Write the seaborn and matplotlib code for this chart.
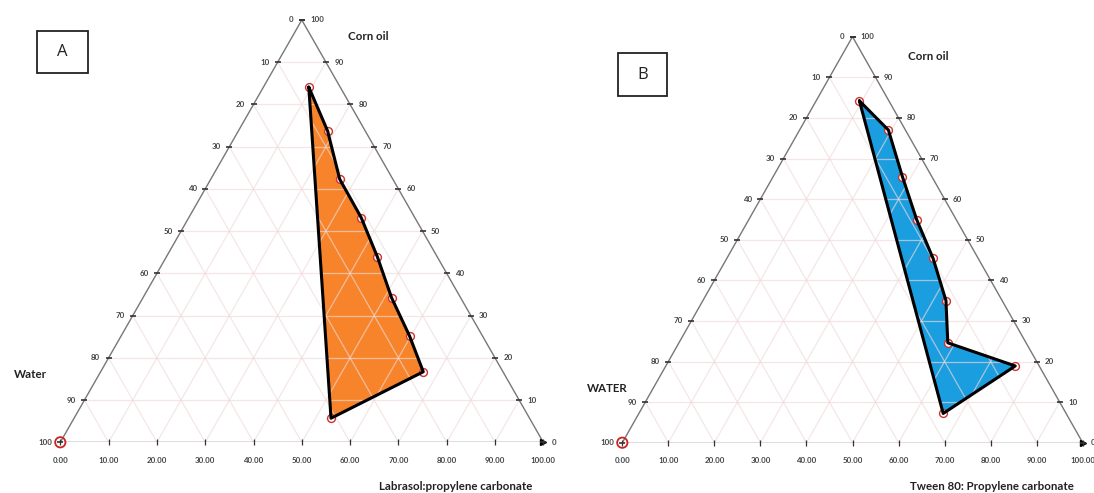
import numpy as np
import pandas as pd
import matplotlib
matplotlib.use('Agg')
import matplotlib.pyplot as plt
import matplotlib.patches as mpatches
import seaborn as sns

# ---- data: Smix / corn oil / water (%) ----
a_smix = [9.4, 18.5, 26.7, 35.7, 43.7, 51.5, 59.7, 66.8, 53.2]
a_oil = [84.1, 73.7, 62.3, 53.2, 43.9, 34.2, 25.2, 16.7, 5.7]
a_water = [6.5, 7.8, 11.0, 11.1, 12.4, 14.3, 15.1, 16.5, 41.1]

b_smix = [9.4, 19.3, 28.1, 36.5, 44.8, 52.8, 58.4, 75.9, 66.1]
b_oil = [84.2, 77.0, 65.5, 54.9, 45.4, 35.0, 24.6, 18.9, 7.2]
b_water = [6.4, 3.7, 6.4, 8.6, 9.8, 12.2, 17.0, 5.2, 26.7]

# pure water vertex marked on both diagrams
vertex_smix = [0.0]
vertex_oil = [0.0]

grid_vals = [10, 20, 30, 40, 50, 60, 70, 80, 90]
side_ticks = [0, 10, 20, 30, 40, 50, 60, 70, 80, 90, 100]
bottom_labels = ['0.00', '10.00', '20.00', '30.00', '40.00', '50.00',
                 '60.00', '70.00', '80.00', '90.00', '100.00']

H = np.sqrt(3) / 2
W_PX, H_PX = 1094, 493


def tern(smix, oil):
    smix = np.asarray(smix, dtype=float)
    oil = np.asarray(oil, dtype=float)
    return smix + oil / 2, oil * H


def ternary_panel(rect, smix, oil, water, fill):
    ax = fig.add_axes(rect)
    ax.set_xlim(0, 100)
    ax.set_ylim(0, 100 * H)
    ax.axis('off')

    # grid (light, drawn over the filled region so it shows through)
    gkw = dict(color='#efdada', lw=0.9, alpha=0.65, zorder=3)
    for k in grid_vals:
        x, y = tern([0, 100 - k], [k, k])
        ax.plot(x, y, **gkw)
        x, y = tern([k, k], [0, 100 - k])
        ax.plot(x, y, **gkw)
        x, y = tern([100 - k, 0], [0, 100 - k])
        ax.plot(x, y, **gkw)

    # triangle frame
    x, y = tern([0, 0], [0, 100])
    ax.plot(x, y, color='#777777', lw=1.0, zorder=4)
    x, y = tern([0, 100], [100, 0])
    ax.plot(x, y, color='#777777', lw=1.0, zorder=4)
    x, y = tern([0, 100], [0, 0])
    ax.plot(x, y, color='#555555', lw=1.0, zorder=4)
    ax.plot([100], [0], marker='>', color='black', ms=4, zorder=5, clip_on=False)

    tkw = dict(fontsize=5.7, fontweight='bold', color='#444444',
               textcoords='offset points', va='center')
    for v in side_ticks:
        # left axis
        lx, ly = tern([0], [100 - v])
        ax.plot(lx, ly, marker='_', color='#333333', ms=4, mew=1.2,
                zorder=5, clip_on=False)
        ax.annotate(str(v), (lx[0], ly[0]), xytext=(-6, 0), ha='right', **tkw)
        # right axis
        rx, ry = tern([100 - v], [v])
        ax.plot(rx, ry, marker='_', color='#333333', ms=4, mew=1.2,
                zorder=5, clip_on=False)
        ax.annotate(str(v), (rx[0], ry[0]), xytext=(6, 0), ha='left', **tkw)
    for v, lab in zip(side_ticks, bottom_labels):
        ax.plot([v], [0], marker='|', color='#333333', ms=4, mew=0.9,
                zorder=5, clip_on=False)
        ax.annotate(lab, (v, 0), xytext=(0, -13), ha='center', **tkw)

    # region
    px, py = tern(smix, oil)
    ax.fill(px, py, color=fill, lw=0, zorder=2)
    pts = pd.DataFrame({'x': px, 'y': py, 'water': water})
    sns.scatterplot(data=pts, x='x', y='y', ax=ax, s=32, marker='o',
                    facecolor='white', edgecolor='#cc3333', linewidth=1.0,
                    zorder=6, legend=False)
    ax.plot(np.append(px, px[0]), np.append(py, py[0]), color='black',
            lw=2.2, zorder=7, solid_joinstyle='round')
    vx, vy = tern(vertex_smix, vertex_oil)
    ax.scatter(vx, vy, s=55, facecolor='none', edgecolor='#cc2222',
               linewidth=1.3, zorder=8, clip_on=False)
    ax.set_xlabel('')
    ax.set_ylabel('')
    return ax


def fig_text(x, y, s, **kw):
    fig.text(x / W_PX, 1 - y / H_PX, s, **kw)


sns.set_theme(style='white')
plt.rcParams['font.family'] = ['Lato', 'DejaVu Sans']

fig = plt.figure(figsize=(W_PX / 100, H_PX / 100), dpi=100)
fig.patch.set_facecolor('white')

ternary_panel([60.3 / W_PX, (H_PX - 442.3) / H_PX, 483 / W_PX, 422.3 / H_PX],
              a_smix, a_oil, a_water, '#f7842a')
ternary_panel([622.3 / W_PX, (H_PX - 442.7) / H_PX, 460.4 / W_PX, 406 / H_PX],
              b_smix, b_oil, b_water, '#1b9ee0')

lkw = dict(fontsize=8.3, fontweight='bold', color='#222222', va='center')
fig_text(368, 37, 'Corn oil', ha='center', **lkw)
fig_text(30, 375, 'Water', ha='center', **lkw)
fig_text(456, 487, 'Labrasol:propylene carbonate', ha='center', **lkw)
fig_text(928, 57, 'Corn oil', ha='center', **lkw)
fig_text(607, 389, 'WATER', ha='center', **lkw)
fig_text(910, 487, 'Tween 80: Propylene carbonate', ha='left', **lkw)

# panel letters in boxes
for (x0, y0, w, h, letter) in [(36.7, 30.7, 51, 42, 'A'), (617.7, 53.3, 49, 43, 'B')]:
    fig.patches.append(mpatches.Rectangle((x0 / W_PX, 1 - (y0 + h) / H_PX),
                                          w / W_PX, h / H_PX, transform=fig.transFigure,
                                          facecolor='white', edgecolor='#222222', lw=1.3))
    fig_text(x0 + w / 2, y0 + h / 2, letter, ha='center', va='center',
             fontsize=12, color='#222222', family=['Open Sans', 'DejaVu Sans'])

fig.savefig('out.png', dpi=100)
